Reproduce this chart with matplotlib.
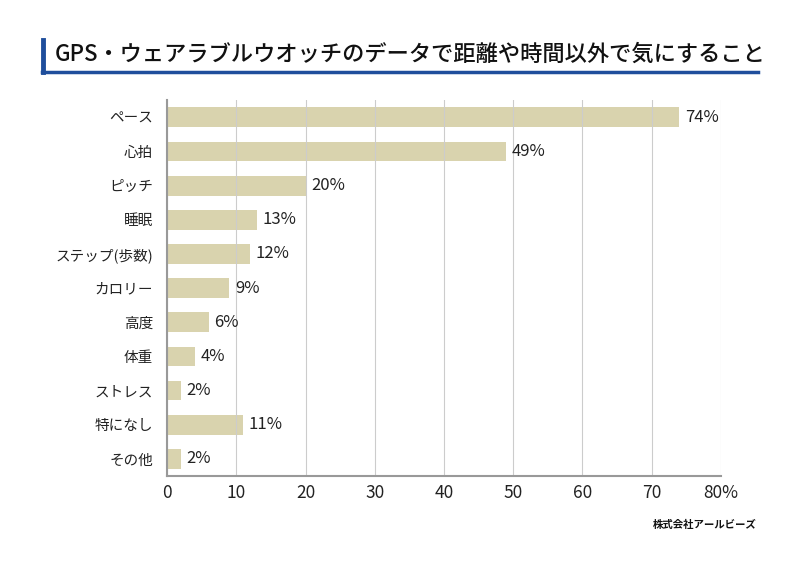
import matplotlib
matplotlib.use("Agg")
import matplotlib.pyplot as plt
from matplotlib.lines import Line2D

plt.rcParams['font.family'] = ['Noto Sans CJK JP', 'DejaVu Sans']

# data
categories = ["ペース", "心拍", "ピッチ", "睡眠", "ステップ(歩数)", "カロリー",
              "高度", "体重", "ストレス", "特になし", "その他"]
values = [74, 49, 20, 13, 12, 9, 6, 4, 2, 11, 2]
xticks = [0, 10, 20, 30, 40, 50, 60, 70, 80]
xtick_labels = ["0", "10", "20", "30", "40", "50", "60", "70", "80%"]

fig = plt.figure(figsize=(8, 5.66), dpi=100)
ax = fig.add_axes([0.209, 0.159, 0.692, 0.664])

y = list(range(len(categories)))
ax.barh(y, values, height=0.58, color="#d9d3ae", zorder=1)
for yi, v in zip(y, values):
    ax.text(v + 0.8, yi, f"{v}%", va="center", ha="left", fontsize=12, color="#222222")

ax.set_xlim(0, 80)
ax.set_ylim(len(categories) - 0.5, -0.5)
ax.set_yticks(y)
ax.set_yticklabels(categories, fontsize=10.5, color="#222222")
ax.set_xticks(xticks)
ax.set_xticklabels(xtick_labels, fontsize=12.5, color="#222222")
ax.tick_params(length=0, pad=6)
ax.tick_params(axis="y", pad=10)
ax.xaxis.grid(True, color="#cccccc", linewidth=0.8, zorder=2)
ax.set_axisbelow(False)
for s in ["top", "right"]:
    ax.spines[s].set_visible(False)
for s in ["left", "bottom"]:
    ax.spines[s].set_color("#999999")
    ax.spines[s].set_linewidth(1.5)
    ax.spines[s].set_zorder(3)

# title with blue marker
fig.text(0.068, 0.905, "GPS・ウェアラブルウオッチのデータで距離や時間以外で気にすること",
         fontsize=16, fontweight="medium", va="center", ha="left", color="#111111")
fig.add_artist(Line2D([0.054, 0.054], [0.873, 0.93], color="#1f4e9c", linewidth=3.5))
fig.add_artist(Line2D([0.052, 0.947], [0.873, 0.873], color="#1f4e9c", linewidth=2.5))

fig.text(0.946, 0.072, "株式会社アールビーズ", fontsize=7.5, fontweight="bold",
         style="italic", ha="right", va="center", color="#111111")

fig.savefig("out.png", dpi=100, facecolor="white")
